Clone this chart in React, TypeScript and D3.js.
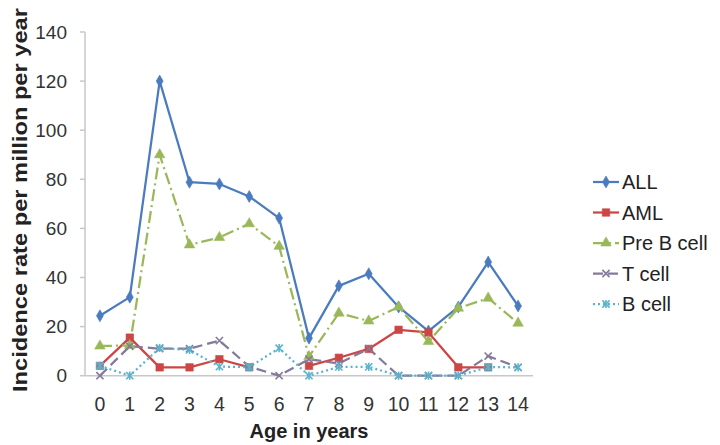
import React from 'react';
import * as d3 from 'd3';

// Values
const ages = ['0', '1', '2', '3', '4', '5', '6', '7', '8', '9', '10', '11', '12', '13', '14'];
const allValues = [24.4, 32, 120, 78.8, 78.1, 73, 64.2, 15.3, 36.6, 41.5, 28, 18.2, 28, 46.3, 28.4];
const amlValues: (number | null)[] = [4, 15.5, 3.4, 3.4, 6.7, 3.4, null, 4, 7.3, 10.9, 18.7, 17.6, 3.4, 3.4, null];
const preBValues = [12.1, 12.3, 90, 53.3, 56.3, 61.9, 52.7, 7.8, 25.5, 22.3, 28, 13.9, 27.5, 31.6, 21.4];
const tCellValues = [0, 12, 11, 11, 14.3, 3.7, 0, 6.7, 5, 11, 0, 0, 0, 8, 3.4];
const bCellValues = [4, 0, 11.3, 10.5, 3.7, 3.5, 11.2, 0, 3.6, 3.6, 0, 0, 0, 3.5, 3.4];
const yTicks = [0, 20, 40, 60, 80, 100, 120, 140];
// AML points that show up grey where they sit under the T cell marker
const amlGreyIdx = [0, 5, 13];

type Marker = 'diamond' | 'square' | 'triangle' | 'x' | 'star';

interface Series {
  name: string;
  values: (number | null)[];
  color: string;
  dash?: string;
  marker: Marker;
}

const series: Series[] = [
  { name: 'ALL', values: allValues, color: '#4a7bbf', marker: 'diamond' },
  { name: 'AML', values: amlValues, color: '#cc4645', marker: 'square' },
  { name: 'Pre B cell', values: preBValues, color: '#9ab85a', dash: '12,4,2,4', marker: 'triangle' },
  { name: 'T cell', values: tCellValues, color: '#85799c', dash: '10,5', marker: 'x' },
  { name: 'B cell', values: bCellValues, color: '#5bb3cc', dash: '2,3', marker: 'star' },
];

const width = 720;
const height = 445;
const plot = { left: 85, right: 533, top: 32, bottom: 375.7 };

const MarkerShape: React.FC<{ kind: Marker; x: number; y: number; color: string }> = ({ kind, x, y, color }) => {
  if (kind === 'x' || kind === 'star') {
    const r = 3.6;
    return (
      <g stroke={color} strokeWidth={1.6}>
        <line x1={x - r} y1={y - r} x2={x + r} y2={y + r} />
        <line x1={x - r} y1={y + r} x2={x + r} y2={y - r} />
        {kind === 'star' && <line x1={x} y1={y - r - 0.5} x2={x} y2={y + r + 0.5} />}
      </g>
    );
  }
  const type = kind === 'diamond' ? d3.symbolDiamond : kind === 'square' ? d3.symbolSquare : d3.symbolTriangle;
  const size = kind === 'diamond' ? 42 : kind === 'square' ? 56 : 48;
  const path = d3.symbol().type(type).size(size)() || '';
  return <path d={path} transform={`translate(${x},${y})`} fill={color} stroke={color} strokeWidth={0.6} />;
};

export default function App() {
  const xScale = d3.scaleBand<string>().domain(ages).range([plot.left, plot.right]);
  const xPos = (i: number) => (xScale(ages[i]) ?? 0) + xScale.bandwidth() / 2;
  const yScale = d3.scaleLinear().domain([0, 140]).range([plot.bottom, plot.top]);

  const lineGen = d3
    .line<number | null>()
    .defined((d) => d !== null)
    .x((_, i) => xPos(i))
    .y((d) => yScale(d as number));

  const legendX = 593;
  const legendY = d3.scaleLinear().domain([0, 4]).range([182, 304]);

  return (
    <svg
      width={width}
      height={height}
      style={{ position: 'absolute', left: 0, top: 0, background: '#fff' }}
      fontFamily="'Liberation Sans', Arial, sans-serif"
    >
      {/* axes */}
      <line x1={plot.left} y1={plot.top} x2={plot.left} y2={plot.bottom} stroke="#c8c8c8" strokeWidth={1.5} />
      <line x1={plot.left} y1={plot.bottom} x2={plot.right} y2={plot.bottom} stroke="#c8c8c8" strokeWidth={1.5} />
      {yTicks.map((t) => (
        <g key={t}>
          <line x1={plot.left - 5} x2={plot.left} y1={yScale(t)} y2={yScale(t)} stroke="#c8c8c8" strokeWidth={1.5} />
          <text x={67} y={yScale(t)} dy="0.35em" textAnchor="end" fontSize={19} fill="#333">
            {t}
          </text>
        </g>
      ))}
      {ages.map((a, i) => (
        <text key={a} x={xPos(i)} y={411} textAnchor="middle" fontSize={19.5} fill="#333">
          {a}
        </text>
      ))}

      {/* titles */}
      <text x={(plot.left + plot.right) / 2} y={438} textAnchor="middle" fontSize={20} fontWeight="bold" fill="#222">
        Age in years
      </text>
      <text
        transform={`translate(27,200) rotate(-90)`}
        textAnchor="middle"
        fontSize={20}
        fontWeight="bold"
        fill="#222"
        textLength={384}
        lengthAdjust="spacingAndGlyphs"
      >
        Incidence rate per million per year
      </text>

      {/* series lines */}
      {series.map((s) => (
        <path
          key={s.name}
          d={lineGen(s.values) || ''}
          fill="none"
          stroke={s.color}
          strokeWidth={2.25}
          strokeDasharray={s.dash}
          strokeLinejoin="round"
        />
      ))}

      {/* markers */}
      {series.map((s) => (
        <g key={s.name + '-m'}>
          {s.values.map((v, i) =>
            v === null ? null : (
              <MarkerShape
                key={i}
                kind={s.marker}
                x={xPos(i)}
                y={yScale(v)}
                color={s.name === 'AML' && amlGreyIdx.includes(i) ? '#8a7f8e' : s.color}
              />
            ),
          )}
        </g>
      ))}

      {/* legend */}
      {series.map((s, i) => (
        <g key={s.name + '-l'}>
          <line
            x1={legendX}
            x2={legendX + 26}
            y1={legendY(i)}
            y2={legendY(i)}
            stroke={s.color}
            strokeWidth={2.25}
            strokeDasharray={s.dash}
          />
          <MarkerShape kind={s.marker} x={legendX + 13} y={legendY(i)} color={s.color} />
          <text x={legendX + 29} y={legendY(i)} dy="0.35em" fontSize={20} fill="#222">
            {s.name}
          </text>
        </g>
      ))}
    </svg>
  );
}
